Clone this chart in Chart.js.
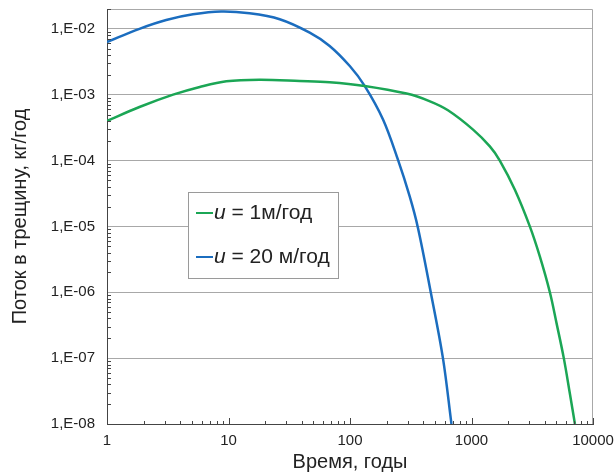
<!DOCTYPE html>
<html>
<head>
<meta charset="utf-8">
<script src="https://cdn.jsdelivr.net/npm/chart.js@4/dist/chart.umd.min.js"></script>
<style>
  html, body { margin: 0; padding: 0; background: #fff; }
  #wrap { width: 615px; height: 474px; }
</style>
</head>
<body>
<div id="wrap"><canvas id="fluxChart"></canvas></div>
<script>
  // time points (years) and flux values (kg/year)
  const timeU1 = [1, 1.85, 3.5, 5.8, 9.6, 18, 38.5, 68, 132, 292, 450, 640, 1030, 1416, 1710, 2275, 3020, 3650, 4415, 5010, 5750, 6450, 7100];
  const fluxU1 = [4.0e-4, 6.5e-4, 1.0e-3, 1.31e-3, 1.6e-3, 1.69e-3, 1.62e-3, 1.55e-3, 1.36e-3, 1.04e-3, 8.0e-4, 5.8e-4, 2.95e-4, 1.64e-4, 1.0e-4, 3.6e-5, 1.0e-5, 3.5e-6, 1.0e-6, 3.4e-7, 1.0e-7, 2.9e-8, 1.0e-8];

  const timeU20 = [1, 1.85, 3.07, 5.1, 8.7, 14.9, 26.4, 46.6, 68, 100, 132, 187, 248, 310, 363, 462, 582, 684];
  const fluxU20 = [6.3e-3, 1.0e-2, 1.36e-2, 1.66e-2, 1.83e-2, 1.72e-2, 1.4e-2, 8.75e-3, 5.5e-3, 2.7e-3, 1.36e-3, 4.2e-4, 1.03e-4, 2.85e-5, 9.4e-6, 1.0e-6, 1.0e-7, 1.0e-8];

  const seriesLabels = ["= 1м/год", "= 20 м/год"];
  const xTicks = [1, 10, 100, 1000, 10000];
  const yTicks = [1e-8, 1e-7, 1e-6, 1e-5, 1e-4, 1e-3, 1e-2];

  const GREEN = "#1ba655";
  const BLUE = "#1b6dbf";
  const FONT = "'Liberation Sans', Arial, sans-serif";

  function toPoints(xs, ys) {
    return xs.map((x, i) => ({ x: x, y: ys[i] }));
  }

  // frame, inner minor ticks and the boxed legend
  const decorPlugin = {
    id: "decor",
    afterDraw(chart) {
      const ctx = chart.ctx;
      const a = chart.chartArea;
      const xs = chart.scales.x;
      const ys = chart.scales.y;
      ctx.save();

      // top / right frame
      ctx.strokeStyle = "#a8a8a8";
      ctx.lineWidth = 1;
      ctx.beginPath();
      ctx.moveTo(a.left, a.top + 0.5);
      ctx.lineTo(a.right - 0.5, a.top + 0.5);
      ctx.lineTo(a.right - 0.5, a.bottom);
      ctx.stroke();

      // ticks
      ctx.strokeStyle = "#444";
      ctx.beginPath();
      for (let d = 0; d < 4; d++) {
        for (let k = 1; k <= 10; k++) {
          const v = k * Math.pow(10, d);
          const px = Math.round(xs.getPixelForValue(v)) + 0.5;
          const len = (k === 1 || k === 10) ? 6 : 3;
          ctx.moveTo(px, a.bottom);
          ctx.lineTo(px, a.bottom - len);
        }
      }
      for (let d = -8; d <= -2; d++) {
        for (let k = 2; k <= 9; k++) {
          const v = k * Math.pow(10, d);
          if (v > ys.max) break;
          const py = Math.round(ys.getPixelForValue(v)) + 0.5;
          ctx.moveTo(a.left, py);
          ctx.lineTo(a.left + 4, py);
        }
      }
      ctx.stroke();

      // legend box
      const bx = 188.5, by = 192.5, bw = 150, bh = 86;
      ctx.fillStyle = "#fff";
      ctx.fillRect(bx, by, bw, bh);
      ctx.strokeStyle = "#9a9a9a";
      ctx.strokeRect(bx, by, bw, bh);

      const rows = [213, 257];
      chart.data.datasets.forEach((ds, i) => {
        const y = rows[i];
        ctx.strokeStyle = ds.borderColor;
        ctx.lineWidth = 2;
        ctx.beginPath();
        ctx.moveTo(196, y);
        ctx.lineTo(213, y);
        ctx.stroke();
        ctx.fillStyle = "#222";
        ctx.textBaseline = "middle";
        ctx.font = "italic 21px " + FONT;
        ctx.fillText("u", 214, y);
        const w = ctx.measureText("u").width;
        ctx.font = "21px " + FONT;
        ctx.fillText(" " + ds.label, 214 + w, y);
      });
      ctx.restore();
    }
  };

  new Chart(document.getElementById("fluxChart"), {
    type: "line",
    data: {
      datasets: [
        {
          label: seriesLabels[0],
          data: toPoints(timeU1, fluxU1),
          borderColor: GREEN,
          borderWidth: 2.5,
          pointRadius: 0,
          tension: 0.35,
          fill: false
        },
        {
          label: seriesLabels[1],
          data: toPoints(timeU20, fluxU20),
          borderColor: BLUE,
          borderWidth: 2.5,
          pointRadius: 0,
          tension: 0.35,
          fill: false
        }
      ]
    },
    options: {
      responsive: true,
      maintainAspectRatio: false,
      animation: false,
      layout: { padding: { top: 9, right: 22, left: 4, bottom: 0 } },
      plugins: {
        legend: { display: false },
        tooltip: { enabled: false }
      },
      scales: {
        x: {
          type: "logarithmic",
          min: 1,
          max: 10000,
          afterBuildTicks: s => { s.ticks = xTicks.map(v => ({ value: v })); },
          afterFit: s => { s.height = 50; s.paddingLeft = 0; s.paddingRight = 0; },
          grid: { display: false, drawTicks: false },
          border: { display: true, color: "#444", width: 1 },
          ticks: {
            color: "#222",
            font: { family: FONT, size: 15 },
            padding: 8,
            maxRotation: 0,
            callback: v => String(v)
          },
          title: {
            display: true,
            text: "Время, годы",
            color: "#222",
            font: { family: FONT, size: 20 },
            padding: { top: 0, bottom: 0 }
          }
        },
        y: {
          type: "logarithmic",
          min: 1e-8,
          max: 2e-2,
          afterBuildTicks: s => { s.ticks = yTicks.map(v => ({ value: v })); },
          afterFit: s => { s.width = 103; s.paddingTop = 0; s.paddingBottom = 0; },
          grid: { color: "#a8a8a8", drawTicks: false },
          border: { display: true, color: "#444", width: 1 },
          ticks: {
            color: "#222",
            font: { family: FONT, size: 15 },
            padding: 12,
            callback: v => {
              const e = Math.round(Math.log10(v));
              return "1,E-" + String(-e).padStart(2, "0");
            }
          },
          title: {
            display: true,
            text: "Поток в трещину, кг/год",
            color: "#222",
            font: { family: FONT, size: 20 },
            padding: { top: 4, bottom: 6 }
          }
        }
      }
    },
    plugins: [decorPlugin]
  });
</script>
</body>
</html>
